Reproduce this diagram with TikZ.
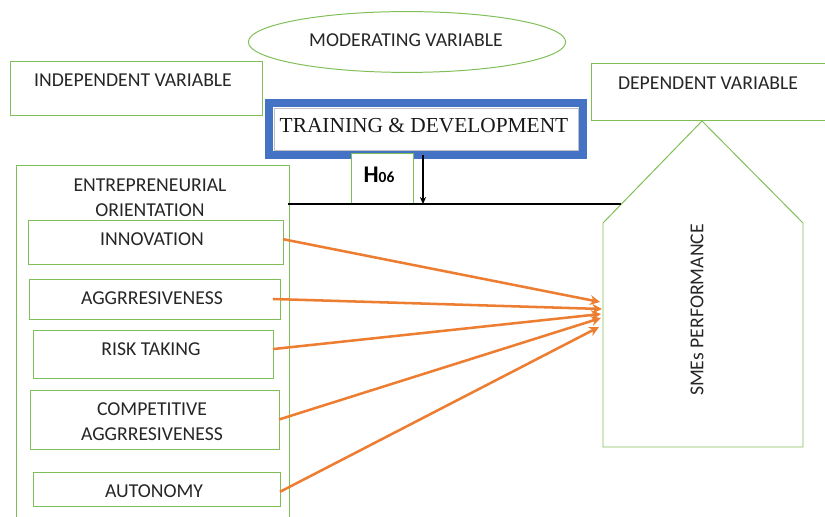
\documentclass[tikz,border=0pt]{standalone}
\usepackage{fontspec}
\setmainfont{Carlito}
\newfontfamily\tdfont{Liberation Serif}
\usetikzlibrary{arrows.meta, positioning, fit, shapes.geometric}
\definecolor{boxgreen}{RGB}{128,190,88}
\definecolor{tdblue}{RGB}{68,114,196}
\definecolor{arrorange}{RGB}{237,125,49}
\tikzset{
  gbox/.style = {draw=boxgreen, line width=0.7pt, fill=white, inner sep=0pt, outer sep=0pt},
  lbl/.style = {align=center, inner sep=0pt, text=black!85,
    font=\fontsize{14}{17.7}\selectfont},
  effect/.style = {draw=arrorange, line width=1.8pt, -{Stealth[length=7pt, width=7pt]}},
  modarrow/.style = {black, line width=1pt, -{Stealth[length=5pt, width=4.5pt]}},
}

\begin{document}
\begin{tikzpicture}[x=0.025cm, y=-0.025cm]
\useasboundingbox (0,0) rectangle (825,517);

\node [ellipse, draw=boxgreen, line width=0.7pt, minimum width=7.93cm,
  minimum height=1.52cm] (mod) at (407,42) {};
\node [lbl] (modtxt) at (406,40) {MODERATING VARIABLE};

\node [gbox, fit={(10,61) (262,115)}] (indep) {};
\node [lbl] (indeptxt) at (133,80) {INDEPENDENT VARIABLE};
\node [gbox, fit={(591,63) (835,120)}] (dep) {};
\node [lbl] (deptxt) at (708,83) {DEPENDENT VARIABLE};

% moderator box, blue frame with thin inner rule
\node [draw=tdblue, line width=0.2cm, fill=white, inner sep=0pt, outer sep=0pt,
  fit={(269,103) (583,155)}] (train) {};
\draw [black!25, line width=0.5pt] ([shift={(5,5)}]train.north west)
  rectangle ([shift={(-5,-5)}]train.south east);
\node [font=\tdfont\fontsize{15.2}{18}\selectfont, text=black!90, inner sep=0pt]
  (traintxt) at (424,126) {TRAINING \& DEVELOPMENT};

\node [gbox, fit={(351,153) (413,203)}] (h06) {};
\node [font=\bfseries\fontsize{17}{19}\selectfont, inner sep=0pt] (h06txt) at (379,175)
  {H{\fontsize{11}{12}\selectfont 06}};

% independent variables
\node [gbox, fit={(16,165) (289,530)}] (eo) {};
\node [lbl] (eotxt) at (150,197.5) {ENTREPRENEURIAL\\ORIENTATION};
\node [gbox, fit={(28,220) (283,264)}] (innov) {};
\node [lbl] (innovtxt) at (152,239) {INNOVATION};
\node [gbox, fit={(29,279) (280,319)}] (aggr) {};
\node [lbl] (aggrtxt) at (152,298) {AGGRRESIVENESS};
\node [gbox, fit={(33,330) (273,378)}] (risk) {};
\node [lbl] (risktxt) at (151,349) {RISK TAKING};
\node [gbox, fit={(30,390) (279,449)}] (comp) {};
\node [lbl] (comptxt) at (152,421.5) {COMPETITIVE\\AGGRRESIVENESS};
\node [gbox, fit={(33,472) (280,506)}] (auto) {};
\node [lbl] (autotxt) at (154,491) {AUTONOMY};

% dependent variable
\coordinate (apex) at (702,121);
\coordinate (lshoulder) at (603,223);
\coordinate (rshoulder) at (803,223);
\draw [boxgreen, line width=0.7pt] (603,447) -- (lshoulder) -- (apex) -- (rshoulder)
  -- (803,447) -- cycle;
\node [lbl, rotate=90] (perf) at (697,310) {SMEs PERFORMANCE};

% moderating line
\coordinate (mw) at (288,204);
\coordinate (me) at (621,204);
\draw [black, line width=1.5pt] (mw) -- (me);
\coordinate (hin) at (423,155);
\draw [modarrow] (hin) -- (hin |- me);

\coordinate (t1) at (600,302);
\coordinate (t2) at (602,309);
\coordinate (t3) at (601,314);
\coordinate (t4) at (601,318);
\coordinate (t5) at (599,327);
\draw [effect] ([yshift=2pt]innov.east) -- (t1);
\draw [effect] ([xshift=-5pt]aggr.east) -- (t2);
\draw [effect] ([yshift=3.5pt]risk.east) -- (t3);
\draw [effect] (comp.east) -- (t4);
\draw [effect] ([yshift=-2pt]auto.east) -- (t5);
\end{tikzpicture}
\end{document}
